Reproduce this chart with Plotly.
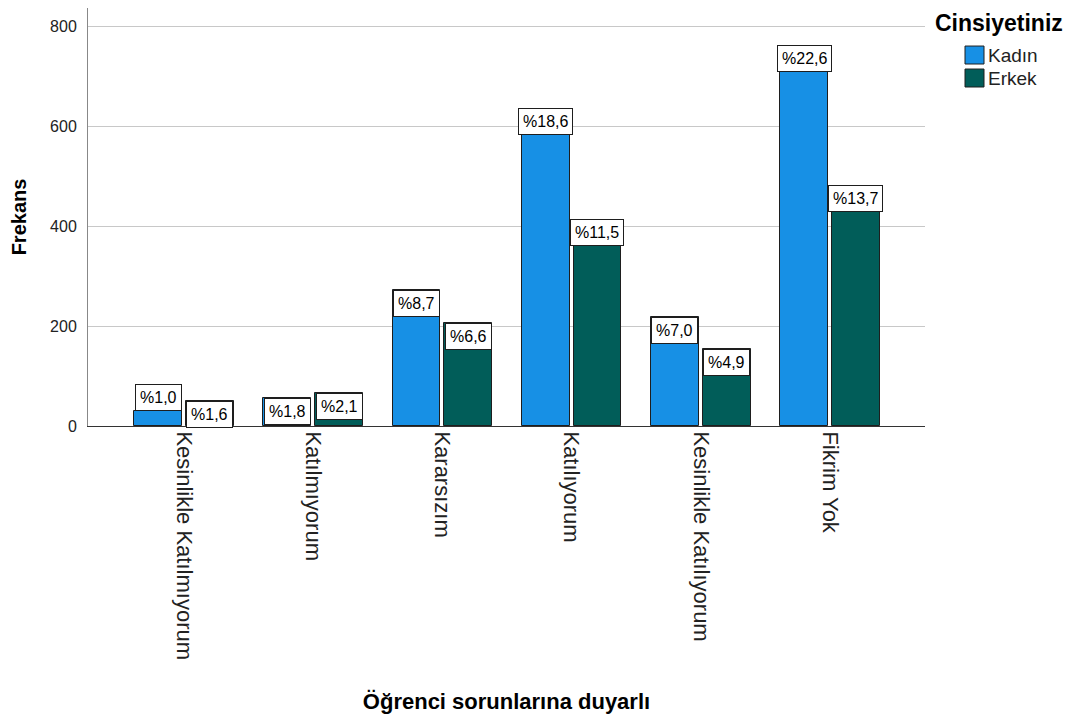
import plotly.graph_objs as go

# kategoriler (x ekseni)
categories = ["Kesinlikle Katılmıyorum", "Katılmıyorum", "Kararsızım",
              "Katılıyorum", "Kesinlikle Katılıyorum", "Fikrim Yok"]

# frekanslar
kadin = [31, 57, 272, 583, 219, 708]
erkek = [50, 66, 207, 360, 154, 429]

# yüzdeler (etiketler)
kadin_pct = [1.0, 1.8, 8.7, 18.6, 7.0, 22.6]
erkek_pct = [1.6, 2.1, 6.6, 11.5, 4.9, 13.7]

y_ticks = [0, 200, 400, 600, 800]

series_names = ["Kadın", "Erkek"]
colors = ["#1790E5", "#015D59"]
# etiket yerleşimi: bar üstünde ya da içinde
label_anchor = [["bottom", "top", "top", "bottom", "top", "bottom"],
                ["top", "top", "top", "bottom", "top", "bottom"]]

FONT = "Liberation Sans, Arial, sans-serif"
offset = 0.2
bar_w = 0.37


def pct_text(v):
    return "%" + ("%.1f" % v).replace(".", ",")


fig = go.Figure()
annotations = []
xs = list(range(len(categories)))

for k, (vals, pcts) in enumerate([(kadin, kadin_pct), (erkek, erkek_pct)]):
    sign = -1 if k == 0 else 1
    xpos = [i + sign * offset for i in xs]
    fig.add_trace(go.Bar(
        x=xpos, y=vals, width=bar_w, name=series_names[k],
        marker=dict(color=colors[k], line=dict(color="#1e1e1e", width=1)),
        showlegend=False,
    ))
    for x, v, p, anc in zip(xpos, vals, pcts, label_anchor[k]):
        annotations.append(dict(
            x=x, y=v, xref="x", yref="y", text=pct_text(p), showarrow=False,
            yanchor=anc, xanchor="center",
            font=dict(family=FONT, size=16, color="black"),
            bgcolor="white", bordercolor="#1e1e1e", borderwidth=1, borderpad=4,
        ))

# lejant (elle çizildi)
annotations.append(dict(x=1.009, y=1.0, xref="paper", yref="paper", text="<b>Cinsiyetiniz</b>",
                        showarrow=False, xanchor="left", yanchor="top",
                        font=dict(family=FONT, size=23, color="black")))
shapes = []
for k, name in enumerate(series_names):
    ytop = 0.909 - k * 0.055
    shapes.append(dict(type="rect", xref="paper", yref="paper",
                       x0=1.0478, x1=1.0705, y0=ytop - 0.043, y1=ytop,
                       fillcolor=colors[k], line=dict(color="#1e1e1e", width=1)))
    annotations.append(dict(x=1.073, y=ytop - 0.0215, xref="paper", yref="paper", text=name,
                            showarrow=False, xanchor="left", yanchor="middle",
                            font=dict(family=FONT, size=19, color="#222")))

layout = go.Layout(
    width=1063, height=715,
    margin=dict(l=80, r=146, t=0, b=297),
    plot_bgcolor="white", paper_bgcolor="white",
    font=dict(family=FONT, color="black"),
    xaxis=dict(range=[-0.743, 5.735], tickvals=xs, ticktext=categories, tickangle=90,
               tickfont=dict(size=22, color="#222"), showgrid=False, zeroline=False,
               showline=True, linecolor="#333", linewidth=1, ticks="",
               title=dict(text="<b>Öğrenci sorunlarına duyarlı</b>", standoff=34,
                          font=dict(size=22, color="black"))),
    yaxis=dict(range=[0, 836], tickvals=y_ticks, tickfont=dict(size=16, color="#222"),
               showgrid=True, gridcolor="#c8c8c8", gridwidth=1, zeroline=False,
               showline=True, linecolor="#888", linewidth=1, ticks="", ticklabelstandoff=7,
               title=dict(text="<b>Frekans</b>", standoff=18, font=dict(size=20, color="black"))),
    annotations=annotations, shapes=shapes,
    bargap=0,
)
fig.update_layout(layout)
fig.write_html("out.html")
